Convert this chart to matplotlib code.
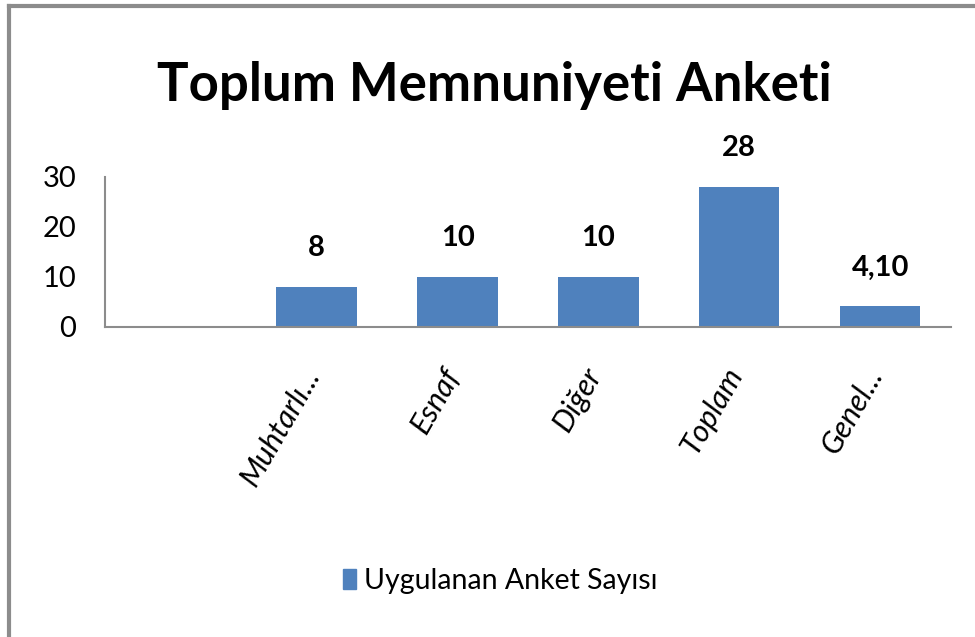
import matplotlib
matplotlib.use('Agg')
import matplotlib.pyplot as plt
import matplotlib.transforms as mtransforms
from matplotlib.lines import Line2D
from matplotlib.patches import Patch

FONT = ['Lato', 'DejaVu Sans']
BLUE = '#4f81bd'
GRAY = '#8c8c8c'

categories = ['', 'Muhtarlı...', 'Esnaf', 'Diğer', 'Toplam', 'Genel...']
values = [0, 8, 10, 10, 28, 4.10]
labels = ['', '8', '10', '10', '28', '4,10']
yticks = [0, 10, 20, 30]
series_name = 'Uygulanan Anket Sayısı'
title = 'Toplum Memnuniyeti Anketi'

plt.rcParams['font.family'] = FONT

fig = plt.figure(figsize=(9.75, 6.37), dpi=100)
ax = fig.add_axes([0.108, 0.4867, 0.867, 0.2355])

x = range(len(categories))
ax.bar(x, values, width=0.57, color=BLUE)
for xi, v, lab in zip(x, values, labels):
    if lab:
        ax.annotate(lab, (xi, v), xytext=(0, 28), textcoords='offset points',
                    ha='center', va='center', fontsize=21, fontweight='bold')

ax.set_xlim(-0.5, 5.5)
ax.set_ylim(0, 30)
ax.set_yticks(yticks)
ax.set_yticklabels([str(t) for t in yticks], fontsize=21)
ax.set_xticks(list(x))
ax.set_xticklabels(categories, rotation=60, ha='right', rotation_mode='anchor',
                   fontsize=22, style='italic')
ax.tick_params(axis='y', length=0, pad=21)
ax.tick_params(axis='x', length=0, pad=26)
shift = mtransforms.ScaledTranslation(-16 / 100, 0, fig.dpi_scale_trans)
for lab in ax.get_xticklabels():
    lab.set_transform(lab.get_transform() + shift)
for s in ['top', 'right']:
    ax.spines[s].set_visible(False)
for s in ['left', 'bottom']:
    ax.spines[s].set_color(GRAY)
    ax.spines[s].set_linewidth(1.5)

fig.text(0.507, 0.866, title, ha='center', va='center', fontsize=38, fontweight='bold')

fig.legend(handles=[Patch(color=BLUE, label=series_name)], loc='center',
           bbox_to_anchor=(0.513, 0.088), frameon=False, fontsize=20.5,
           handlelength=0.45, handleheight=0.72, handletextpad=0.3)

# outer frame (only top and left edges are visible)
fig.add_artist(Line2D([0.009, 1.0], [0.990, 0.990], color=GRAY, lw=3, transform=fig.transFigure))
fig.add_artist(Line2D([0.009, 0.009], [0.0, 0.990], color=GRAY, lw=3, transform=fig.transFigure))

fig.savefig('out.png', dpi=100)
